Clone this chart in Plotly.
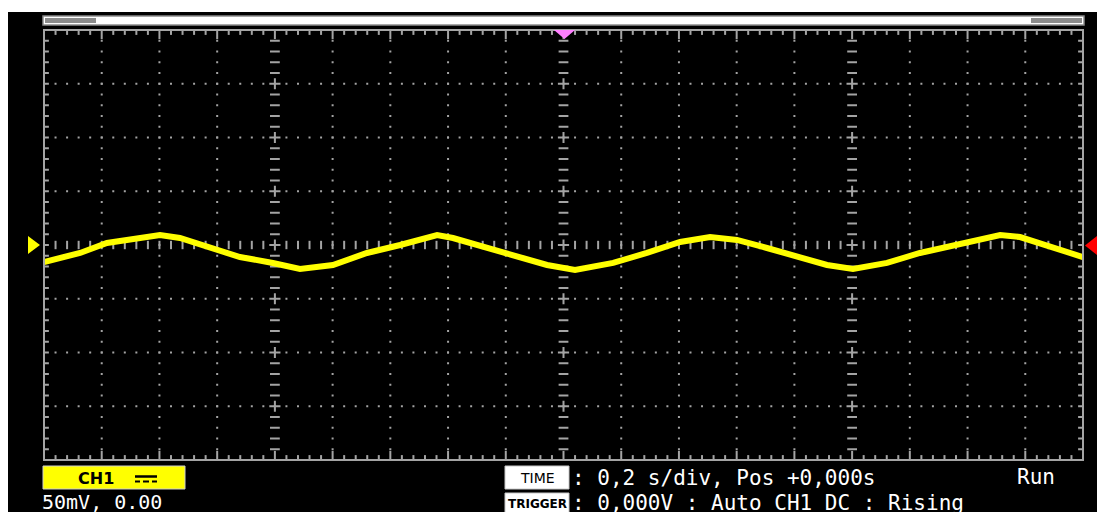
import numpy as np
import plotly.graph_objects as go

time_s = [-1.800, -1.675, -1.582, -1.467, -1.398, -1.329, -1.235, -1.121, -1.007,
          -0.913, -0.799, -0.681, -0.566, -0.497, -0.438, -0.383, -0.279, -0.161,
          -0.057, 0.040, 0.172, 0.289, 0.404, 0.508, 0.601, 0.705, 0.820, 0.913,
          1.003, 1.121, 1.235, 1.350, 1.513, 1.582, 1.696, 1.800]
ch1_mV = [-15.8, -7.4, 1.9, 6.5, 9.3, 6.5, -1.9, -11.2, -16.7,
          -22.3, -18.6, -7.4, 0.0, 4.7, 9.3, 6.5, -1.9, -11.2,
          -18.6, -23.3, -16.7, -7.4, 2.8, 7.4, 4.7, -2.8, -12.1, -18.6,
          -22.3, -16.7, -7.4, 0.0, 9.3, 7.4, -2.8, -11.2]

ch_label = "CH1"
ch_scale_text = "50mV, 0.00"
time_label = "TIME"
trigger_label = "TRIGGER"
time_text = ": 0,2 s/div, Pos +0,000s"
trigger_text = ": 0,000V : Auto CH1 DC : Rising"
run_text = "Run"

T_DIV = 0.2      # s per division
V_DIV = 50.0     # mV per division
N_XDIV = 18
N_YDIV = 8
X0 = -N_XDIV / 2 * T_DIV
Y0 = -N_YDIV / 2 * V_DIV
MAJOR_X = [4, 9, 14]

# ---------------- layout geometry (page pixels) ----------------
OFF = 8                     # page body margin
W, H = 1105 - OFF, 512 - OFF
L, R, T, B = 44, 1083, 30, 460
def px(x): return (x - L) / (R - L)
def py(y): return (B - y) / (B - T)

GRID = "#a4a4a4"
fig = go.Figure()

# grid dots
dx, dy = [], []
xmin = np.round(X0 + np.arange(N_XDIV * 5 + 1) * T_DIV / 5, 4)
ymin = np.round(Y0 + np.arange(N_YDIV * 5 + 1) * V_DIV / 5, 4)
for k in range(1, N_XDIV):
    if k in MAJOR_X:
        continue
    xv = X0 + k * T_DIV
    for yv in ymin[1:-1]:
        dx.append(xv); dy.append(yv)
for j in range(1, N_YDIV):
    if j == N_YDIV // 2:
        continue
    yv = Y0 + j * V_DIV
    for xv in xmin[1:-1]:
        dx.append(xv); dy.append(yv)
fig.add_trace(go.Scatter(x=dx, y=dy, mode="markers", hoverinfo="skip",
                         marker=dict(symbol="square", size=2, color=GRID, line=dict(width=0))))

# major vertical lines: short dashes, crosses at division rows
mx, my, cx, cy = [], [], [], []
for k in MAJOR_X:
    xv = X0 + k * T_DIV
    for i, yv in enumerate(ymin[1:-1], start=1):
        if i % 5 == 0:
            cx.append(xv); cy.append(yv)
        else:
            mx.append(xv); my.append(yv)
fig.add_trace(go.Scatter(x=mx, y=my, mode="markers", hoverinfo="skip",
                         marker=dict(symbol="line-ew", size=7, line=dict(width=2, color=GRID))))
# center horizontal: vertical ticks
tx, ty = [], []
for i, xv in enumerate(xmin[1:-1], start=1):
    if i % 5 == 0 and (i // 5) in MAJOR_X:
        continue
    tx.append(xv); ty.append(0.0)
fig.add_trace(go.Scatter(x=tx, y=ty, mode="markers", hoverinfo="skip",
                         marker=dict(symbol="line-ns", size=6, line=dict(width=2, color=GRID))))
fig.add_trace(go.Scatter(x=cx, y=cy, mode="markers", hoverinfo="skip",
                         marker=dict(symbol="cross-thin", size=8, line=dict(width=2, color=GRID))))

# border ticks (centered on the frame; outer half clipped)
bx_s, by_s, bx_l, by_l = [], [], [], []
for i, xv in enumerate(xmin[1:-1], start=1):
    for yv in (Y0, -Y0):
        if i % 5 == 0:
            bx_l.append(xv); by_l.append(yv)
        else:
            bx_s.append(xv); by_s.append(yv)
fig.add_trace(go.Scatter(x=bx_s, y=by_s, mode="markers", hoverinfo="skip",
                         marker=dict(symbol="line-ns", size=7, line=dict(width=2, color=GRID))))
fig.add_trace(go.Scatter(x=bx_l, y=by_l, mode="markers", hoverinfo="skip",
                         marker=dict(symbol="line-ns", size=13, line=dict(width=2, color=GRID))))
sx, sy = [], []
for yv in ymin[1:-1]:
    for xv in (X0, -X0):
        sx.append(xv); sy.append(yv)
fig.add_trace(go.Scatter(x=sx, y=sy, mode="markers", hoverinfo="skip",
                         marker=dict(symbol="line-ew", size=7, line=dict(width=2, color=GRID))))

# waveform
fig.add_trace(go.Scatter(x=time_s, y=ch1_mV, mode="lines", hoverinfo="skip",
                         line=dict(color="#ffff00", width=6)))

shapes = []
def rect(x0, y0, x1, y1, fill, line=None, lw=0, layer="above"):
    shapes.append(dict(type="rect", xref="paper", yref="paper",
                       x0=px(x0), x1=px(x1), y0=py(y1), y1=py(y0),
                       fillcolor=fill, layer=layer,
                       line=dict(width=lw, color=line or fill)))
def poly(pts, fill):
    p = "M " + " L ".join(f"{px(a):.5f},{py(b):.5f}" for a, b in pts) + " Z"
    shapes.append(dict(type="path", xref="paper", yref="paper", path=p,
                       fillcolor=fill, line=dict(width=0), layer="above"))
def seg(x0, y0, x1, y1, color, w):
    shapes.append(dict(type="line", xref="paper", yref="paper",
                       x0=px(x0), x1=px(x1), y0=py(y0), y1=py(y1),
                       line=dict(color=color, width=w), layer="above"))

# black screen
rect(8, 12, 1097, 520, "#000000", layer="below")
# frame
shapes.append(dict(type="rect", xref="paper", yref="paper", x0=0, x1=1, y0=0, y1=1,
                   line=dict(color=GRID, width=2), layer="above"))
# top scroll bar
rect(43, 16, 1084, 25, "#ffffff", line="#8c8c8c", lw=1.5)
rect(45, 18, 96, 23, "#8c8c8c")
rect(1031, 18, 1082, 23, "#8c8c8c")
# trigger position marker
poly([(554, 30), (575, 30), (564.5, 39)], "#ff80ff")
# channel marker and trigger level
poly([(28, 236), (40, 245), (28, 254)], "#ffff00")
poly([(1097, 236), (1085, 245.5), (1097, 255)], "#ff0000")
# CH1 box
rect(43, 466, 185, 489, "#ffff00", line="#d0d0d0", lw=1)
seg(135, 476.5, 157, 476.5, "#000000", 2.5)
for a, b in ((135, 140), (143, 149), (152, 157)):
    seg(a, 481.5, b, 481.5, "#000000", 2)
# TIME / TRIGGER boxes
rect(505, 466, 569, 489, "#ffffff", line="#c8c8c8", lw=1)
rect(505, 493, 569, 516, "#ffffff", line="#c8c8c8", lw=1)

MONO = "DejaVu Sans Mono"
SANS = "DejaVu Sans"
ann = []
def text(s, x, y, size, color, anchor="left", bold=False, family=MONO):
    ann.append(dict(text=f"<b>{s}</b>" if bold else s, x=px(x), y=py(y),
                    xref="paper", yref="paper", xanchor=anchor, yanchor="middle",
                    showarrow=False, font=dict(size=size, color=color, family=family)))
text(ch_label, 96, 478, 16, "#000000", anchor="center", bold=True, family=SANS)
text(ch_scale_text, 40, 502, 20, "#ffffff")
text(time_label, 537, 478, 14, "#000000", anchor="center", family=SANS)
text(trigger_label, 537, 504, 12, "#000000", anchor="center", bold=True, family=SANS)
text(time_text, 570, 478, 21, "#ffffff")
text(trigger_text, 570, 503, 21, "#ffffff")
text(run_text, 1015, 477, 21, "#ffffff")

fig.update_layout(
    width=W, height=H, autosize=False,
    margin=dict(l=L - OFF, r=(OFF + W) - R, t=T - OFF, b=(OFF + H) - B, pad=0),
    paper_bgcolor="#ffffff", plot_bgcolor="#000000",
    showlegend=False, shapes=shapes, annotations=ann,
    xaxis=dict(range=[X0, -X0], showgrid=False, zeroline=False, showticklabels=False,
               ticks="", showline=False, fixedrange=True),
    yaxis=dict(range=[Y0, -Y0], showgrid=False, zeroline=False, showticklabels=False,
               ticks="", showline=False, fixedrange=True),
)
fig.write_html("out.html", config={"displayModeBar": False})
